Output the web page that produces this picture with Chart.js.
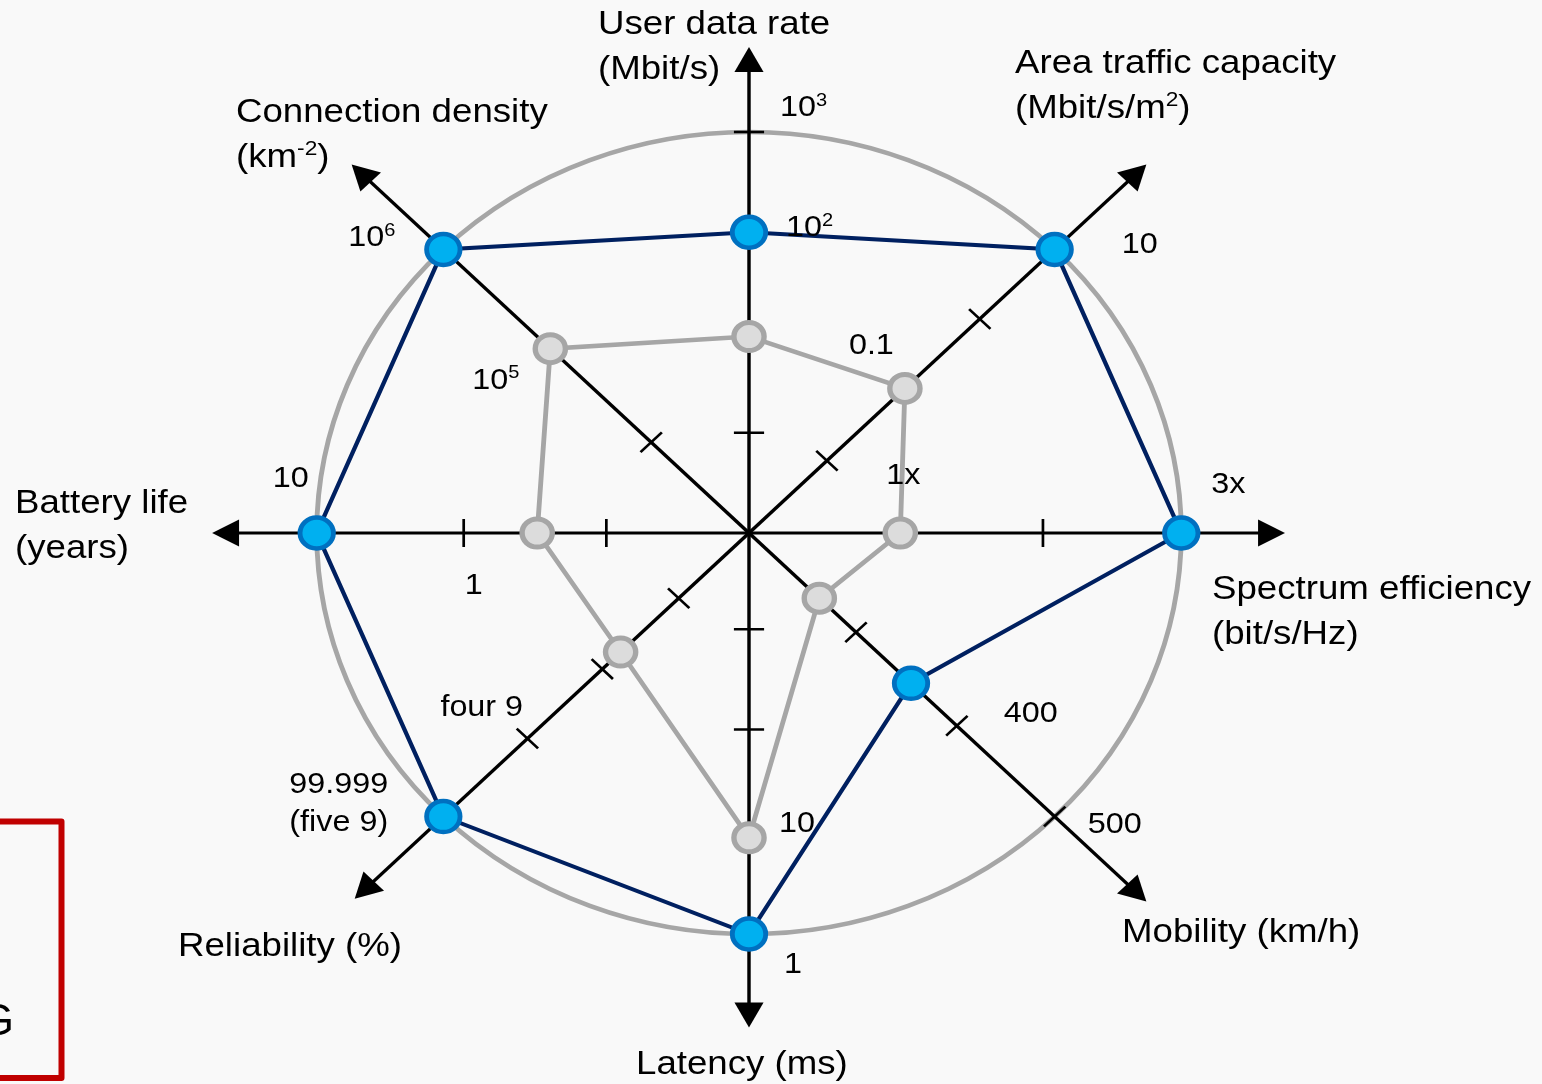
<!DOCTYPE html>
<html>
<head>
<meta charset="utf-8">
<script src="https://cdn.jsdelivr.net/npm/chart.js@4.4.0/dist/chart.umd.min.js"></script>
<style>
  html, body { margin: 0; padding: 0; background: #f9f9f9; }
  #wrap { width: 1542px; height: 1084px; position: relative; }
</style>
</head>
<body>
<div id="wrap"><canvas id="radar"></canvas></div>
<script>
// axes, clockwise from the top
const axisNames = ['User data rate (Mbit/s)', 'Area traffic capacity (Mbit/s/m²)', 'Spectrum efficiency (bit/s/Hz)',
  'Mobility (km/h)', 'Latency (ms)', 'Reliability (%)', 'Battery life (years)', 'Connection density (km⁻²)'];

// position along each axis, 0 = centre, 1 = outer circle
const imt2020 = [0.75, 1.0, 1.0, 0.53, 1.0, 1.0, 1.0, 1.0];
const imtAdvanced = [0.49, 0.51, 0.35, 0.23, 0.76, 0.42, 0.49, 0.65];

// tick marks on each axis
const tickMarks = [[0.25, 1], [0.255, 0.755], [0.68], [0.35, 0.68, 1], [0.24, 0.49], [0.23, 0.48, 0.725], [0.33, 0.66], [0.32]];

// tick labels: value on the axis and text
const tickLabelValues = [[1, 0.75], [1, 0.51], [0.35, 1], [0.68, 1], [0.76, 1], [0.725, 1], [1, 0.66], [1, 0.65]];
const tickLabelTexts = [
  ['10^{3}', '10^{2}'], ['10', '0.1'], ['1x', '3x'], ['400', '500'],
  ['10', '1'], ['four 9', '99.999\n(five 9)'], ['10', '1'], ['10^{6}', '10^{5}']
];

const axisTitles = [
  'User data rate\n(Mbit/s)', 'Area traffic capacity\n(Mbit/s/m^{2})', 'Spectrum efficiency\n(bit/s/Hz)',
  'Mobility (km/h)', 'Latency (ms)', 'Reliability (%)', 'Battery life\n(years)', 'Connection density\n(km^{-2})'
];

// layout (screen px)
const SX = 1.078;   // the figure is a little wider than tall
const axisLen = [1.212, 1.30, 1.24, 1.30, 1.233, 1.29, 1.242, 1.30];
const titlePos = [[598, 34], [1015, 73], [1212, 599], [1122, 942], [636, 1074], [178, 956], [15, 513], [236, 122]];
const labelOffsets = [
  [[31, -16], [37, 4]], [[67, 4], [-56, -34]], [[-14, -49], [30, -40]], [[47, -4], [33, 16]],
  [[30, -6], [35, 39]], [[-87, -23], [-154, -24]], [[-44, -46], [1, 61]], [[-95, -3], [-78, 40]]
];
const FONT = '"Liberation Sans", Arial, sans-serif';

function drawRich(ctx, str, x, y, size, lineH) {
  str.split('\n').forEach(function(line, li) {
    ctx.save();
    ctx.translate(x, y + li * lineH);
    ctx.scale(SX, 1);
    let cx = 0;
    line.split(/(\^\{[^}]*\})/).forEach(function(part) {
      if (!part) return;
      const sup = part.startsWith('^{');
      const t = sup ? part.slice(2, -1) : part;
      ctx.font = (sup ? size * 0.62 : size) + 'px ' + FONT;
      ctx.fillText(t, cx, sup ? -size * 0.34 : 0);
      cx += ctx.measureText(t).width;
    });
    ctx.restore();
  });
}

const decor = {
  id: 'decor',
  beforeDraw(chart) {
    const s = chart.scales.r, ctx = chart.ctx;
    ctx.save();
    ctx.translate(s.xCenter, 0);
    ctx.scale(SX, 1);
    ctx.translate(-s.xCenter, 0);
  },
  beforeDatasetsDraw(chart) {
    const s = chart.scales.r, ctx = chart.ctx, R = s.drawingArea;
    const cx = s.xCenter, cy = s.yCenter;
    ctx.save();
    ctx.strokeStyle = '#000';
    ctx.fillStyle = '#000';
    axisNames.forEach(function(n, i) {
      const tip = s.getPointPosition(i, R * axisLen[i]);
      const a = Math.atan2(tip.y - cy, tip.x - cx);
      const ca = Math.cos(a), sa = Math.sin(a);
      const hl = 25, hw = 13.5;
      ctx.lineWidth = 3.2;
      ctx.beginPath();
      ctx.moveTo(cx, cy);
      ctx.lineTo(tip.x - ca * (hl - 2), tip.y - sa * (hl - 2));
      ctx.stroke();
      ctx.beginPath();
      ctx.moveTo(tip.x, tip.y);
      ctx.lineTo(tip.x - ca * hl - sa * hw, tip.y - sa * hl + ca * hw);
      ctx.lineTo(tip.x - ca * hl + sa * hw, tip.y - sa * hl - ca * hw);
      ctx.closePath();
      ctx.fill();
      ctx.lineWidth = 2.5;
      tickMarks[i].forEach(function(f) {
        const p = s.getPointPosition(i, R * f);
        ctx.beginPath();
        ctx.moveTo(p.x - sa * 14, p.y + ca * 14);
        ctx.lineTo(p.x + sa * 14, p.y - ca * 14);
        ctx.stroke();
      });
    });
    ctx.restore();
  },
  afterDraw(chart) {
    const s = chart.scales.r, ctx = chart.ctx, R = s.drawingArea;
    ctx.restore();
    ctx.save();
    ctx.fillStyle = '#000';
    ctx.textAlign = 'left';
    ctx.textBaseline = 'alphabetic';
    axisTitles.forEach(function(t, i) {
      drawRich(ctx, t, titlePos[i][0], titlePos[i][1], 34, 45);
    });
    tickLabelValues.forEach(function(vals, i) {
      vals.forEach(function(v, j) {
        const p = s.getPointPosition(i, R * v);
        const x = s.xCenter + (p.x - s.xCenter) * SX;
        drawRich(ctx, tickLabelTexts[i][j], x + labelOffsets[i][j][0], p.y + labelOffsets[i][j][1], 30, 38);
      });
    });
    // clipped box at bottom left
    ctx.strokeStyle = '#c00000';
    ctx.lineWidth = 6;
    ctx.lineJoin = 'round';
    ctx.strokeRect(-20, 821.5, 81.5, 256.5);
    ctx.font = '44px ' + FONT;
    ctx.textAlign = 'right';
    ctx.fillText('G', 14, 1035);
    ctx.restore();
  }
};

new Chart(document.getElementById('radar'), {
  type: 'radar',
  data: {
    labels: axisNames,
    datasets: [
      {
        label: 'IMT-2020',
        data: imt2020,
        borderColor: '#002060',
        borderWidth: 4,
        pointRadius: 15.5,
        pointBorderWidth: 4.5,
        pointBackgroundColor: '#00b0f0',
        pointBorderColor: '#0070c0',
        fill: false,
        clip: false
      },
      {
        label: 'IMT-Advanced',
        data: imtAdvanced,
        borderColor: '#a6a6a6',
        borderWidth: 4.5,
        pointRadius: 14,
        pointBorderWidth: 5,
        pointBackgroundColor: '#dcdcdc',
        pointBorderColor: '#a6a6a6',
        fill: false,
        clip: false
      }
    ]
  },
  options: {
    responsive: true,
    maintainAspectRatio: false,
    animation: false,
    layout: { padding: { left: 249, right: 293, top: 132, bottom: 149 } },
    plugins: { legend: { display: false }, tooltip: { enabled: false } },
    elements: { line: { tension: 0 } },
    scales: {
      r: {
        min: 0,
        max: 1,
        ticks: { display: false, stepSize: 0.25 },
        pointLabels: { display: false },
        angleLines: { display: false },
        grid: {
          circular: true,
          lineWidth: 4.5,
          color: function(c) {
            return c.index === c.chart.scales.r.ticks.length - 1 ? '#a6a6a6' : 'rgba(0,0,0,0)';
          }
        }
      }
    }
  },
  plugins: [decor]
});
</script>
</body>
</html>
